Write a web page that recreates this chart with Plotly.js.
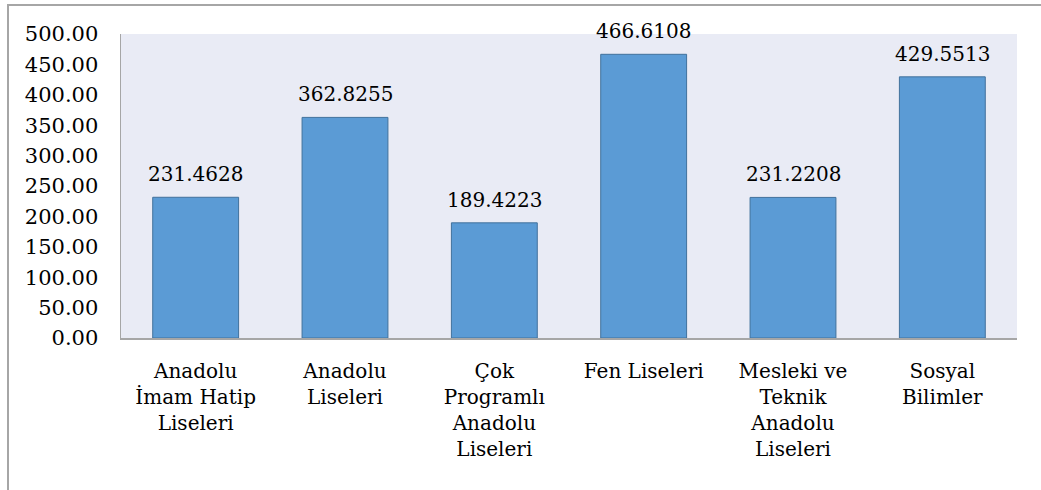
<!DOCTYPE html>
<html>
<head>
<meta charset="utf-8">
<script src="https://cdn.plot.ly/plotly-3.0.1.min.js"></script>
<style>
html,body{margin:0;padding:0;background:#fff;}
#frame{position:absolute;left:7px;top:4px;width:1034px;height:486px;border-top:2px solid #A6A6A6;border-left:2px solid #A6A6A6;box-sizing:border-box;}
#chart{position:absolute;left:0;top:0;width:1041px;height:490px;}
</style>
</head>
<body>
<div id="frame"></div>
<div id="chart"></div>
<script>
const categories = [
  "Anadolu<br>İmam Hatip<br>Liseleri",
  "Anadolu<br>Liseleri",
  "Çok<br>Programlı<br>Anadolu<br>Liseleri",
  "Fen Liseleri",
  "Mesleki ve<br>Teknik<br>Anadolu<br>Liseleri",
  "Sosyal<br>Bilimler"
];
const values = [231.4628, 362.8255, 189.4223, 466.6108, 231.2208, 429.5513];
const valueLabels = ["231.4628", "362.8255", "189.4223", "466.6108", "231.2208", "429.5513"];
const yTicks = [0, 50, 100, 150, 200, 250, 300, 350, 400, 450, 500];

const font = "DejaVu Serif";

const annotations = categories.map((c, i) => ({
  x: c, y: values[i], xref: "x", yref: "y",
  text: valueLabels[i], showarrow: false,
  xanchor: "center", yanchor: "bottom", yshift: 9,
  font: {family: font, size: 20, color: "#000"}
}));
Plotly.newPlot("chart", [{
  type: "bar",
  x: categories,
  y: values,
  marker: {color: "#5B9BD5", line: {color: "#41719C", width: 1}},
  width: 0.575,
  hoverinfo: "none"
}], {
  width: 1041, height: 490,
  margin: {l: 121, r: 24, t: 34, b: 152, pad: 0},
  paper_bgcolor: "rgba(0,0,0,0)",
  plot_bgcolor: "#E9EBF5",
  showlegend: false,
  font: {family: font, size: 20, color: "#000"},
  annotations: annotations,
  xaxis: {
    showline: true, linecolor: "#A6A6A6", linewidth: 1.5,
    showgrid: false, ticks: "outside", ticklen: 14, tickcolor: "rgba(0,0,0,0)",
    tickfont: {family: font, size: 20, color: "#000"}
  },
  yaxis: {
    range: [0, 500], tickvals: yTicks, tickformat: ".2f",
    showline: true, linecolor: "#A6A6A6", linewidth: 1.5,
    showgrid: false, zeroline: false,
    ticks: "outside", ticklen: 17, tickcolor: "rgba(0,0,0,0)",
    tickfont: {family: font, size: 21, color: "#000"}
  }
}, {displayModeBar: false, staticPlot: true});
</script>
</body>
</html>
